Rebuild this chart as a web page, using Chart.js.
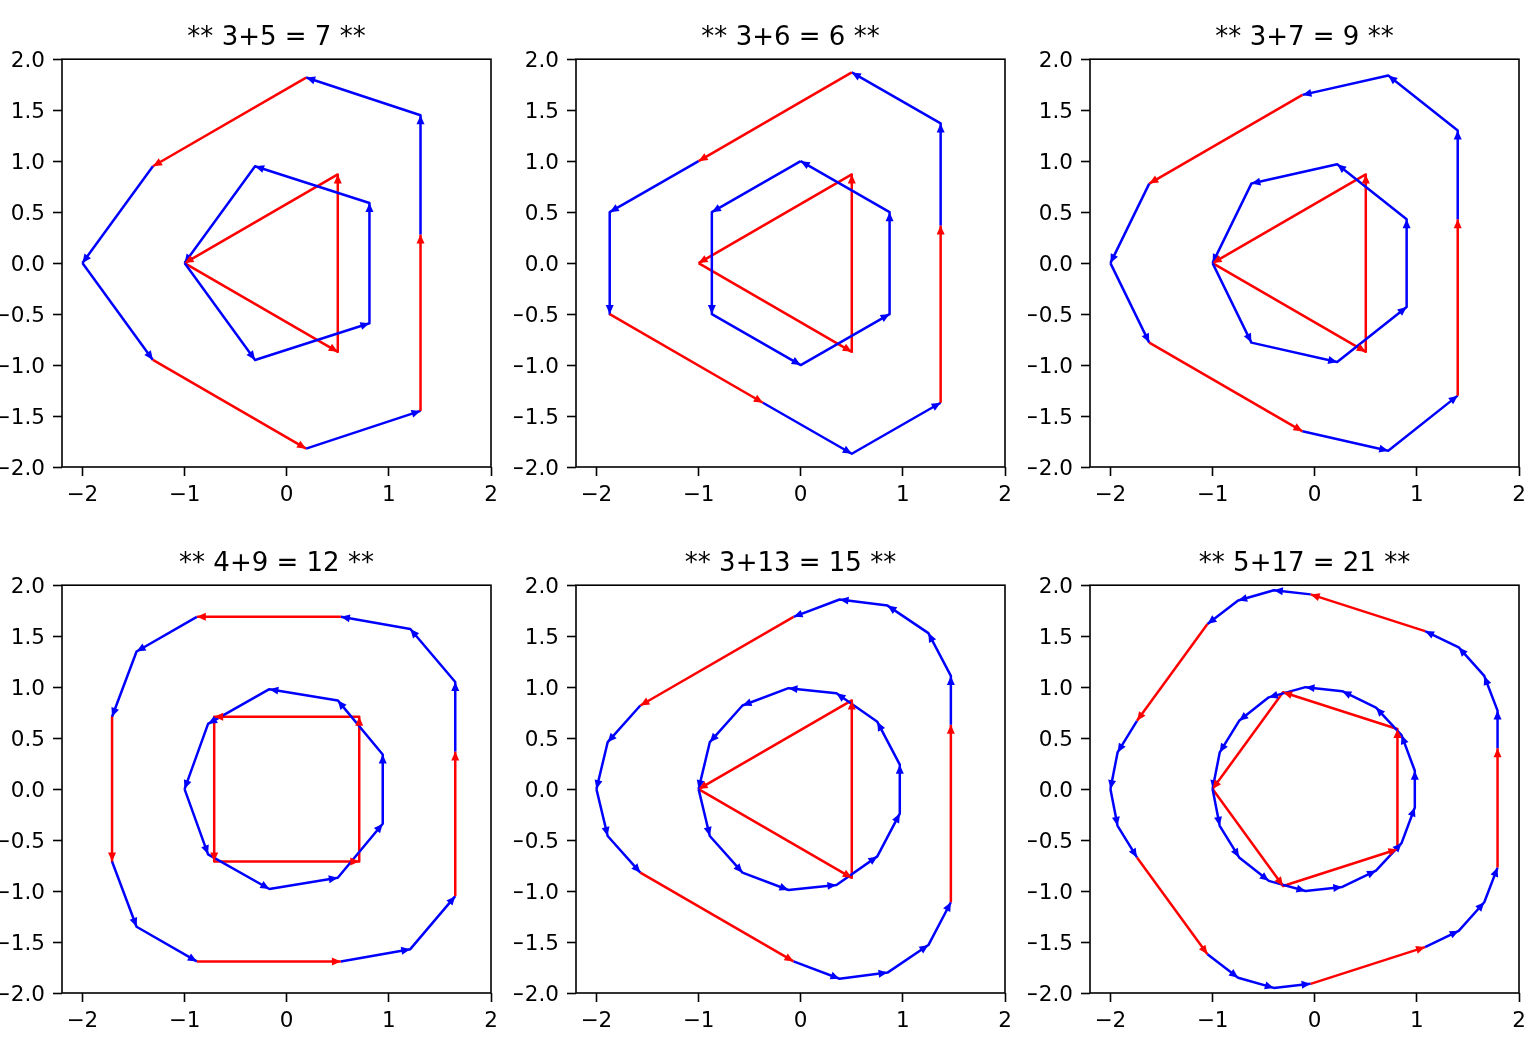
<!DOCTYPE html>
<html>
<head>
<meta charset="utf-8">
<script src="https://cdn.jsdelivr.net/npm/chart.js"></script>
<style>
  html, body { margin: 0; padding: 0; background: #fff; overflow: hidden; }
  .panel { position: absolute; width: 514px; height: 526px; }
</style>
</head>
<body>
<div class="panel" style="left:0px;top:0px"><canvas id="c0"></canvas></div>
<div class="panel" style="left:514px;top:0px"><canvas id="c1"></canvas></div>
<div class="panel" style="left:1028px;top:0px"><canvas id="c2"></canvas></div>
<div class="panel" style="left:0px;top:526px"><canvas id="c3"></canvas></div>
<div class="panel" style="left:514px;top:526px"><canvas id="c4"></canvas></div>
<div class="panel" style="left:1028px;top:526px"><canvas id="c5"></canvas></div>
<script>
// Axis ticks
const xTicks = [-2, -1, 0, 1, 2];
const xTickLabels = ["\u22122", "\u22121", "0", "1", "2"];
const yTicks = [-2, -1.5, -1, -0.5, 0, 0.5, 1, 1.5, 2];
const yTickLabels = ["\u22122.0", "\u22121.5", "\u22121.0", "\u22120.5", "0.0", "0.5", "1.0", "1.5", "2.0"];

const titles = ["** 3+5 = 7 **", "** 3+6 = 6 **", "** 3+7 = 9 **",
                "** 4+9 = 12 **", "** 3+13 = 15 **", "** 5+17 = 21 **"];

// Panel 1: triangle + pentagon
const p1Red = [[-1, 0], [0.5, -0.87], [0.5, 0.87]];
const p1Blue = [[-1, 0], [-0.31, -0.95], [0.81, -0.59], [0.81, 0.59], [-0.31, 0.95]];
const p1Sum = [[-2, 0], [-1.31, -0.95], [0.19, -1.82], [1.31, -1.45], [1.31, 0.28], [1.31, 1.45],
               [0.19, 1.82], [-1.31, 0.95], [-2, 0]];
const p1Src = ["B", "A", "B", "A", "B", "B", "A", "B"];

// Panel 2: triangle + hexagon
const p2Red = [[-1, 0], [0.5, -0.87], [0.5, 0.87]];
const p2Blue = [[0, 1], [-0.87, 0.5], [-0.87, -0.5], [0, -1], [0.87, -0.5], [0.87, 0.5]];
const p2Sum = [[-1.87, 0.5], [-1.87, -0.5], [-0.37, -1.37], [0.5, -1.87], [1.37, -1.37], [1.37, 0.37],
               [1.37, 1.37], [0.5, 1.87], [-1, 1], [-1.87, 0.5]];
const p2Src = ["B", "A", "B", "B", "A", "B", "B", "A", "B"];

// Panel 3: triangle + heptagon
const p3Red = [[-1, 0], [0.5, -0.87], [0.5, 0.87]];
const p3Blue = [[-1, 0], [-0.62, -0.78], [0.22, -0.97], [0.9, -0.43], [0.9, 0.43], [0.22, 0.97], [-0.62, 0.78]];
const p3Sum = [[-2, 0], [-1.62, -0.78], [-0.12, -1.65], [0.72, -1.84], [1.4, -1.3], [1.4, 0.43], [1.4, 1.3],
               [0.72, 1.84], [-0.12, 1.65], [-1.62, 0.78], [-2, 0]];
const p3Src = ["B", "A", "B", "B", "A", "B", "B", "B", "A", "B"];

// Panel 4: square + 9-gon
const p4Red = [[-0.71, 0.71], [-0.71, -0.71], [0.71, -0.71], [0.71, 0.71]];
const p4Blue = [[-1, 0], [-0.77, -0.64], [-0.17, -0.98], [0.5, -0.87], [0.94, -0.34], [0.94, 0.34],
                [0.5, 0.87], [-0.17, 0.98], [-0.77, 0.64]];
const p4Sum = [[-1.71, 0.71], [-1.71, -0.71], [-1.47, -1.35], [-0.88, -1.69], [0.53, -1.69], [1.21, -1.57],
               [1.65, -1.05], [1.65, 0.37], [1.65, 1.05], [1.21, 1.57], [0.53, 1.69], [-0.88, 1.69],
               [-1.47, 1.35], [-1.71, 0.71]];
const p4Src = ["A", "B", "B", "A", "B", "B", "A", "B", "B", "B", "A", "B", "B"];

// Panel 5: triangle + 13-gon
const p5Red = [[-1, 0], [0.5, -0.87], [0.5, 0.87]];
const p5Blue = [[-1, 0], [-0.89, -0.46], [-0.57, -0.82], [-0.12, -0.99], [0.35, -0.94], [0.75, -0.66],
                [0.97, -0.24], [0.97, 0.24], [0.75, 0.66], [0.35, 0.94], [-0.12, 0.99], [-0.57, 0.82],
                [-0.89, 0.46]];
const p5Sum = [[-2, 0], [-1.89, -0.46], [-1.57, -0.82], [-0.07, -1.69], [0.38, -1.86], [0.85, -1.8],
               [1.25, -1.53], [1.47, -1.11], [1.47, 0.63], [1.47, 1.11], [1.25, 1.53], [0.85, 1.8],
               [0.38, 1.86], [-0.07, 1.69], [-1.57, 0.82], [-1.89, 0.46], [-2, 0]];
const p5Src = ["B", "B", "A", "B", "B", "B", "B", "A", "B", "B", "B", "B", "B", "A", "B", "B"];

// Panel 6: pentagon + 17-gon
const p6Red = [[-1, 0], [-0.31, -0.95], [0.81, -0.59], [0.81, 0.59], [-0.31, 0.95]];
const p6Blue = [[-1, 0], [-0.93, -0.36], [-0.74, -0.67], [-0.45, -0.9], [-0.09, -1], [0.27, -0.96],
                [0.6, -0.8], [0.85, -0.53], [0.98, -0.18], [0.98, 0.18], [0.85, 0.53], [0.6, 0.8],
                [0.27, 0.96], [-0.09, 1], [-0.45, 0.9], [-0.74, 0.67], [-0.93, 0.36]];
const p6Sum = [[-2, 0], [-1.93, -0.36], [-1.74, -0.67], [-1.05, -1.62], [-0.75, -1.85], [-0.4, -1.95],
               [-0.04, -1.91], [1.08, -1.55], [1.41, -1.39], [1.66, -1.11], [1.79, -0.77], [1.79, 0.4],
               [1.79, 0.77], [1.66, 1.11], [1.41, 1.39], [1.08, 1.55], [-0.04, 1.91], [-0.4, 1.95],
               [-0.75, 1.85], [-1.05, 1.62], [-1.74, 0.67], [-1.93, 0.36], [-2, 0]];
const p6Src = ["B", "B", "A", "B", "B", "B", "A", "B", "B", "B", "A", "B", "B", "B", "B", "A",
               "B", "B", "B", "A", "B", "B"];

const panels = [
  { red: p1Red, blue: p1Blue, sum: p1Sum, src: p1Src },
  { red: p2Red, blue: p2Blue, sum: p2Sum, src: p2Src },
  { red: p3Red, blue: p3Blue, sum: p3Sum, src: p3Src },
  { red: p4Red, blue: p4Blue, sum: p4Sum, src: p4Src },
  { red: p5Red, blue: p5Blue, sum: p5Sum, src: p5Src },
  { red: p6Red, blue: p6Blue, sum: p6Sum, src: p6Src },
];

const RED = "#ff0000";
const BLUE = "#0000ff";
const srcColor = (s) => (s === "A" ? RED : BLUE);
const toXY = (pts) => pts.map((p) => ({ x: p[0], y: p[1] }));
const closed = (pts) => toXY(pts.concat([pts[0]]));

// arrow heads at the end of every edge + the axes box
const arrowPlugin = {
  id: "arrows",
  afterDatasetsDraw(chart) {
    const ctx = chart.ctx;
    chart.data.datasets.forEach((ds, di) => {
      const pts = chart.getDatasetMeta(di).data;
      for (let i = 1; i < pts.length; i++) {
        const a = pts[i - 1];
        const b = pts[i];
        const ang = Math.atan2(b.y - a.y, b.x - a.x);
        ctx.save();
        ctx.translate(b.x, b.y);
        ctx.rotate(ang);
        ctx.beginPath();
        ctx.moveTo(0, 0);
        ctx.lineTo(-9, 4);
        ctx.lineTo(-9, -4);
        ctx.closePath();
        ctx.fillStyle = ds.arrowColors[i - 1];
        ctx.fill();
        ctx.restore();
      }
    });
    const area = chart.chartArea;
    ctx.save();
    ctx.strokeStyle = "#000";
    ctx.lineWidth = 1.6;
    ctx.strokeRect(area.left, area.top, area.right - area.left, area.bottom - area.top);
    ctx.restore();
  },
};

const tickFont = { family: "DejaVu Sans", size: 21.5 };

function makeChart(idx) {
  const p = panels[idx];
  const redPts = closed(p.red);
  const bluePts = closed(p.blue);
  const sumPts = toXY(p.sum);
  new Chart(document.getElementById("c" + idx), {
    type: "scatter",
    data: {
      datasets: [
        {
          data: sumPts,
          showLine: true,
          borderWidth: 2.5,
          borderJoinStyle: "round",
          borderColor: BLUE,
          pointRadius: 0,
          segment: { borderColor: (c) => srcColor(p.src[c.p0DataIndex]) },
          arrowColors: p.src.map(srcColor),
          order: 3,
        },
        {
          data: bluePts,
          showLine: true,
          borderWidth: 2.5,
          borderJoinStyle: "round",
          borderColor: BLUE,
          pointRadius: 0,
          arrowColors: bluePts.map(() => BLUE),
          order: 1,
        },
        {
          data: redPts,
          showLine: true,
          borderWidth: 2.5,
          borderJoinStyle: "round",
          borderColor: RED,
          pointRadius: 0,
          arrowColors: redPts.map(() => RED),
          order: 2,
        },
      ],
    },
    options: {
      responsive: true,
      maintainAspectRatio: false,
      animation: false,
      events: [],
      layout: { padding: { left: 0, right: 23, top: 0, bottom: 0 } },
      plugins: {
        legend: { display: false },
        tooltip: { enabled: false },
        title: {
          display: true,
          fullSize: false,
          text: titles[idx],
          color: "#000",
          font: { family: "DejaVu Sans", size: 26, weight: "normal" },
          padding: { top: 23, bottom: 5 },
        },
      },
      scales: {
        x: {
          type: "linear",
          min: -2.2,
          max: 2,
          afterFit: (s) => { s.height = 59; },
          afterBuildTicks: (s) => { s.ticks = xTicks.map((v) => ({ value: v })); },
          ticks: {
            callback: (v) => xTickLabels[xTicks.indexOf(v)],
            font: tickFont,
            color: "#000",
            padding: 7,
            autoSkip: false,
            maxRotation: 0,
          },
          grid: { drawOnChartArea: false, tickLength: 9, tickWidth: 1.6, tickColor: "#000" },
          border: { display: false },
        },
        y: {
          type: "linear",
          min: -2,
          max: 2,
          afterFit: (s) => { s.width = 62; },
          afterBuildTicks: (s) => { s.ticks = yTicks.map((v) => ({ value: v })); },
          ticks: {
            callback: (v) => yTickLabels[yTicks.indexOf(v)],
            font: tickFont,
            color: "#000",
            padding: 8,
            labelOffset: 2.5,
            autoSkip: false,
          },
          grid: { drawOnChartArea: false, tickLength: 9, tickWidth: 1.6, tickColor: "#000" },
          border: { display: false },
        },
      },
    },
    plugins: [arrowPlugin],
  });
}

for (let i = 0; i < panels.length; i++) makeChart(i);
</script>
</body>
</html>
